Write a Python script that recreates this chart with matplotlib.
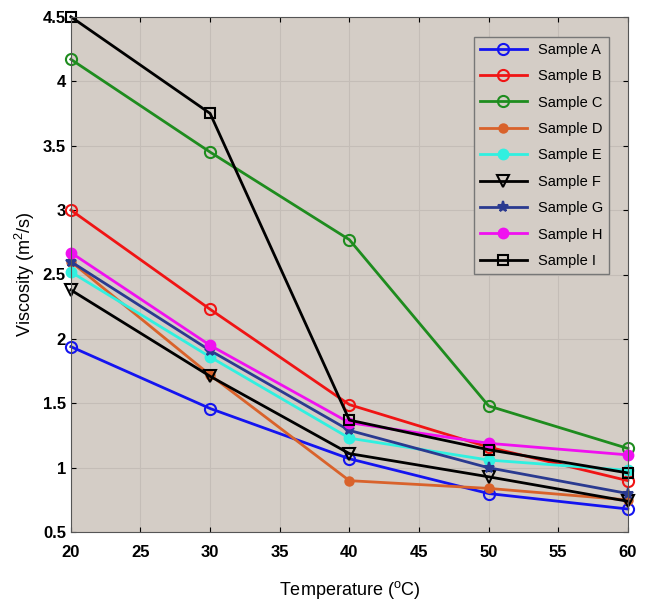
import matplotlib.pyplot as plt

plt.rcParams['font.family'] = ['Liberation Sans', 'DejaVu Sans']

temps = [20, 30, 40, 50, 60]
sample_a = [1.94, 1.46, 1.07, 0.80, 0.68]
sample_b = [3.00, 2.23, 1.49, 1.16, 0.90]
sample_c = [4.17, 3.45, 2.77, 1.48, 1.15]
sample_d = [2.60, 1.72, 0.90, 0.84, 0.75]
sample_e = [2.52, 1.86, 1.23, 1.06, 0.98]
sample_f = [2.38, 1.71, 1.11, 0.93, 0.74]
sample_g = [2.60, 1.91, 1.29, 1.00, 0.80]
sample_h = [2.67, 1.95, 1.35, 1.19, 1.10]
sample_i = [4.50, 3.75, 1.37, 1.14, 0.96]
labels = ["Sample A", "Sample B", "Sample C", "Sample D", "Sample E",
          "Sample F", "Sample G", "Sample H", "Sample I"]

styles = [
    dict(color="#1414f0", marker="o", mfc="none"),
    dict(color="#f01414", marker="o", mfc="none"),
    dict(color="#1e8c1e", marker="o", mfc="none"),
    dict(color="#d9622b", marker="o", ms=6),
    dict(color="#30f0e0", marker="o", ms=7),
    dict(color="#000000", marker="v", mfc="none"),
    dict(color="#2a3a90", marker="*", ms=8),
    dict(color="#f010f0", marker="o", ms=7),
    dict(color="#000000", marker="s", mfc="none", ms=7),
]
series = [sample_a, sample_b, sample_c, sample_d, sample_e,
          sample_f, sample_g, sample_h, sample_i]

fig = plt.figure(figsize=(6.5, 6.0), dpi=100)
ax = fig.add_axes([0.109, 0.113, 0.857, 0.859])
ax.set_facecolor("#d4cdc6")

for vals, lab, st in zip(series, labels, styles):
    kw = dict(lw=2, ms=8, mew=1.5, clip_on=False)
    kw.update(st)
    ax.plot(temps, vals, label=lab, **kw)

ax.set_xlim(20, 60)
ax.set_ylim(0.5, 4.5)
ax.set_xticks(range(20, 61, 5))
ax.set_yticks([0.5, 1, 1.5, 2, 2.5, 3, 3.5, 4, 4.5])
ax.set_yticklabels(["0.5", "1", "1.5", "2", "2.5", "3", "3.5", "4", "4.5"])
ax.tick_params(direction="in", labelsize=12, top=True, right=True)
ax.tick_params(axis="x", pad=9)
for lbl in ax.get_xticklabels() + ax.get_yticklabels():
    lbl.set_fontweight("bold")
ax.grid(True, color="#c4bdb7", lw=0.8)
for s in ax.spines.values():
    s.set_color("#555555")

ax.set_xlabel("Temperature ($\\mathregular{^{o}}$C)", fontsize=13, labelpad=14)
ax.set_ylabel("Viscosity (m$\\mathregular{^{2}}$/s)", fontsize=13)

leg = ax.legend(loc="upper right", bbox_to_anchor=(0.98, 0.975), fontsize=10.5,
                fancybox=False, framealpha=1, facecolor="#d4cdc6",
                edgecolor="#777777", handlelength=3.2, labelspacing=0.85)

fig.savefig("out.png")
